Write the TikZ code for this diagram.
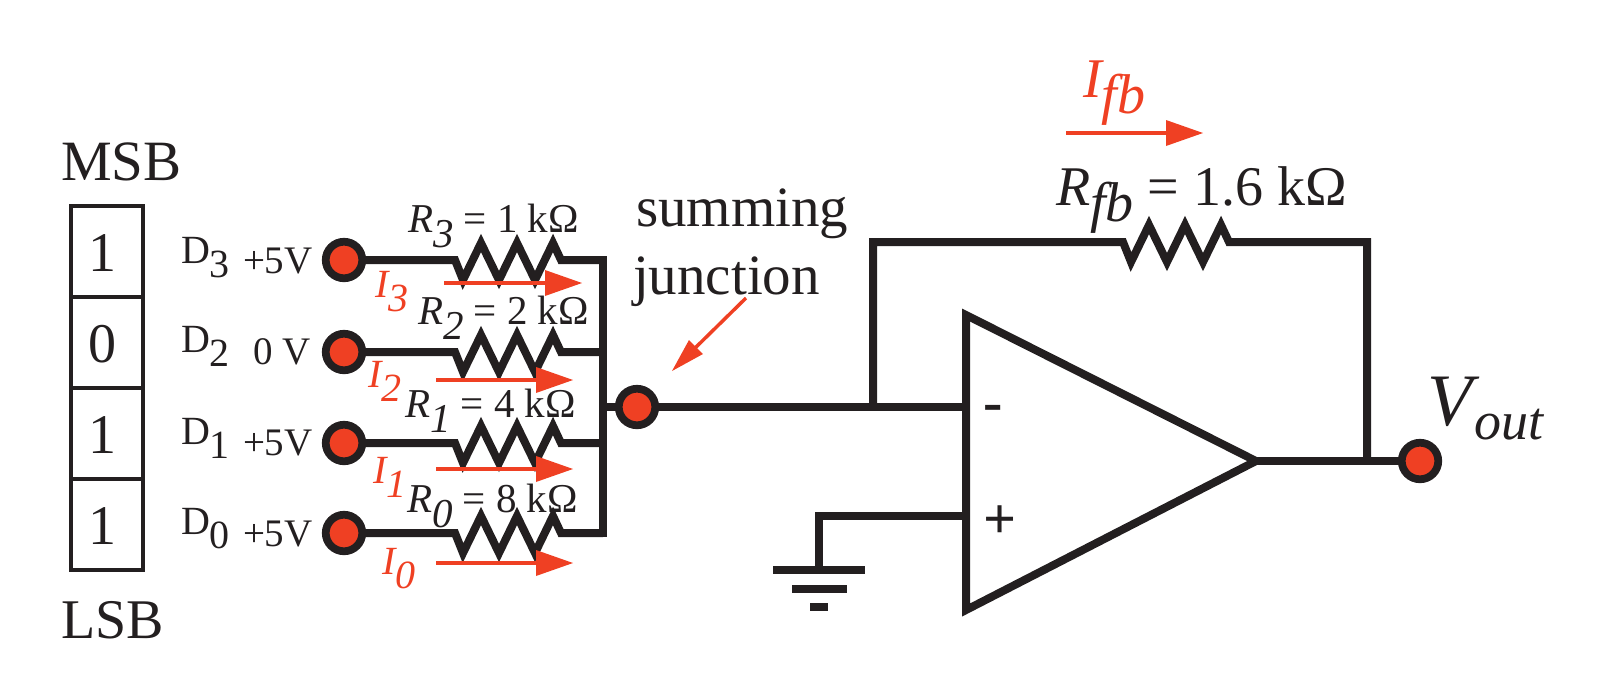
\documentclass[tikz,border=0pt]{standalone}
\usepackage{fontspec}
\setmainfont{Liberation Serif}
\definecolor{ink}{HTML}{231F20}
\definecolor{redc}{HTML}{EF4023}
\newcommand{\fsz}[1]{\fontsize{\dimexpr #1pt*3/4\relax}{\dimexpr #1pt*9/10\relax}\selectfont}
\newcommand{\lowsub}[2]{\raisebox{-#1em}{#2}}
\tikzset{
  px/.style={x=0.75pt,y=-0.75pt},
  wire/.style={draw=ink,line width=6pt,line join=miter,miter limit=10},
  thin box/.style={draw=ink,line width=2.4pt,minimum width=54pt,minimum height=68.25pt,inner sep=0pt,outer sep=0pt},
  term/.style={circle,draw=ink,fill=redc,line width=5.8pt,minimum size=27.4pt,inner sep=0pt,outer sep=0pt},
  txt/.style={anchor=base west,inner sep=0pt,outer sep=0pt,text=ink},
  redtxt/.style={anchor=base west,inner sep=0pt,outer sep=0pt,text=redc,font=\itshape},
  cur/.style={draw=redc,line width=3pt},
  curhead/.style={fill=redc,draw=none},
  gnd/.style={draw=ink,line width=5.6pt}
}
\newcommand{\zig}{-- ++(8,20) -- ++(18,-37) -- ++(18,37) -- ++(18,-37) -- ++(18,37) -- ++(18,-37) -- ++(8,17)}
\newcommand{\curarrow}[3]{% y, start x, head base x
  \draw[cur] (#2,#1) -- (#3,#1);
  \fill[curhead] (#3,#1-13) -- (#3+37,#1) -- (#3,#1+13) -- cycle;}
\begin{document}
\begin{tikzpicture}[px]
\useasboundingbox (0,0) rectangle (1600,672);
% register
\node[thin box] (b3) at (107,251.5) {};
\node[thin box] (b2) at (107,342.5) {};
\node[thin box] (b1) at (107,433.5) {};
\node[thin box] (b0) at (107,524.5) {};
\node[txt] (msb) at (61,180) {\fsz{57}MSB};
\node[txt] (lsb) at (61,638) {\fsz{56}LSB};
\node[txt,anchor=base] (d3v) at (102,271) {\fsz{56}1};
\node[txt,anchor=base] (d2v) at (102,362) {\fsz{56}0};
\node[txt,anchor=base] (d1v) at (102,453) {\fsz{56}1};
\node[txt,anchor=base] (d0v) at (102,544) {\fsz{56}1};
% bit labels
\node[txt] (l3) at (181,263) {\fsz{40}D\lowsub{0.37}{3}};
\node[txt] (l2) at (181,352) {\fsz{40}D\lowsub{0.37}{2}};
\node[txt] (l1) at (181,444) {\fsz{40}D\lowsub{0.37}{1}};
\node[txt] (l0) at (181,534) {\fsz{40}D\lowsub{0.37}{0}};
\node[txt] (v3) at (243,273) {\fsz{39}+5V};
\node[txt] (v2) at (253,364) {\fsz{39}0 V};
\node[txt] (v1) at (243,455) {\fsz{39}+5V};
\node[txt] (v0) at (243,546) {\fsz{39}+5V};
% terminals and junctions
\node[term] (t3) at (344,260) {};
\node[term] (t2) at (344,352) {};
\node[term] (t1) at (344,443) {};
\node[term] (t0) at (344,533) {};
\node[term] (sum) at (637,407) {};
\node[term] (vo) at (1420,461) {};
% op amp
\coordinate (opa) at (966,315);
\coordinate (opb) at (966,610);
\coordinate (opc) at (1256,461);
\coordinate (inm) at (966,407);
\coordinate (inp) at (966,516);
\coordinate (gndtop) at (819,570);
\coordinate (fbl) at (873,407);
\coordinate (fbr) at (1367,461);
\coordinate (bus3) at (603,260);
\coordinate (bus0) at (603,533);
\coordinate (busm) at (603,407);
\draw[wire] (t3) -- (455,260) \zig -- (bus3);
\draw[wire] (t2) -- (455,352) \zig -- (603,352);
\draw[wire] (t1) -- (455,443) \zig -- (603,443);
\draw[wire] (t0) -- (455,533) \zig -- (bus0);
\draw[wire,line cap=rect] (bus3) -- (bus0);
\draw[wire] (busm) -- (sum);
\draw[wire] (sum) -- (inm);
\draw[wire] (fbl) -- (873,242) -- (1123,242) \zig -- (1367,242) -- (fbr);
\draw[wire] (opc) -- (vo);
\draw[wire] (inp) -- (819,516) -- (gndtop);
\draw[wire] (opa) -- (opb) -- (opc) -- cycle;
% ground
\draw[gnd] (773,570) -- (865,570);
\draw[gnd] (792,589) -- (847,589);
\draw[gnd] (810,607) -- (828,607);
% sign labels
\node[txt,anchor=base] (minus) at (993,421) {\fsz{58}\bfseries -};
\node[txt,anchor=base] (plus) at (1000,538) {\fsz{58}\bfseries +};
% current arrows
\curarrow{283}{444}{545}
\curarrow{380}{436}{536}
\curarrow{469}{436}{536}
\curarrow{563}{436}{536}
\curarrow{133}{1066}{1166}
% resistor labels
\node[txt] (r3) at (408,232) {\fsz{41}\textit{R}\lowsub{0.37}{\textit{3}} = 1 kΩ};
\node[txt] (r2) at (418,324) {\fsz{41}\textit{R}\lowsub{0.37}{\textit{2}} = 2 kΩ};
\node[txt] (r1) at (405,417) {\fsz{41}\textit{R}\lowsub{0.37}{\textit{1}} = 4 kΩ};
\node[txt] (r0) at (407,512) {\fsz{41}\textit{R}\lowsub{0.37}{\textit{0}} = 8 kΩ};
\node[txt] (rf) at (1056,205) {\fsz{56}\textit{R}\lowsub{0.29}{\textit{fb}} = 1.6 kΩ};
% current labels
\node[redtxt] (i3) at (375,297) {\fsz{40}I\lowsub{0.37}{3}};
\node[redtxt] (i2) at (368,387) {\fsz{40}I\lowsub{0.37}{2}};
\node[redtxt] (i1) at (373,483) {\fsz{40}I\lowsub{0.37}{1}};
\node[redtxt] (i0) at (382,574) {\fsz{40}I\lowsub{0.37}{0}};
\node[redtxt] (ifb) at (1083,97) {\fsz{56}I\lowsub{0.29}{fb}};
% summing junction
\node[txt] (s1) at (636,226) {\fsz{57}summing};
\node[txt] (s2) at (633,294) {\fsz{57}junction};
\coordinate (sa) at (746,298);
\coordinate (sb) at (674,368);
\draw[draw=redc,line width=2.6pt] (sa) -- (690,353);
\fill[redc] (672,371) -- (689,340) -- (703,354) -- cycle;
% output label
\node[txt] (vout) at (1427,425) {\fsz{74}\textit{V}\hspace{-4pt}\raisebox{-0.2em}{\fsz{54}\textit{out}}};
\end{tikzpicture}
\end{document}
